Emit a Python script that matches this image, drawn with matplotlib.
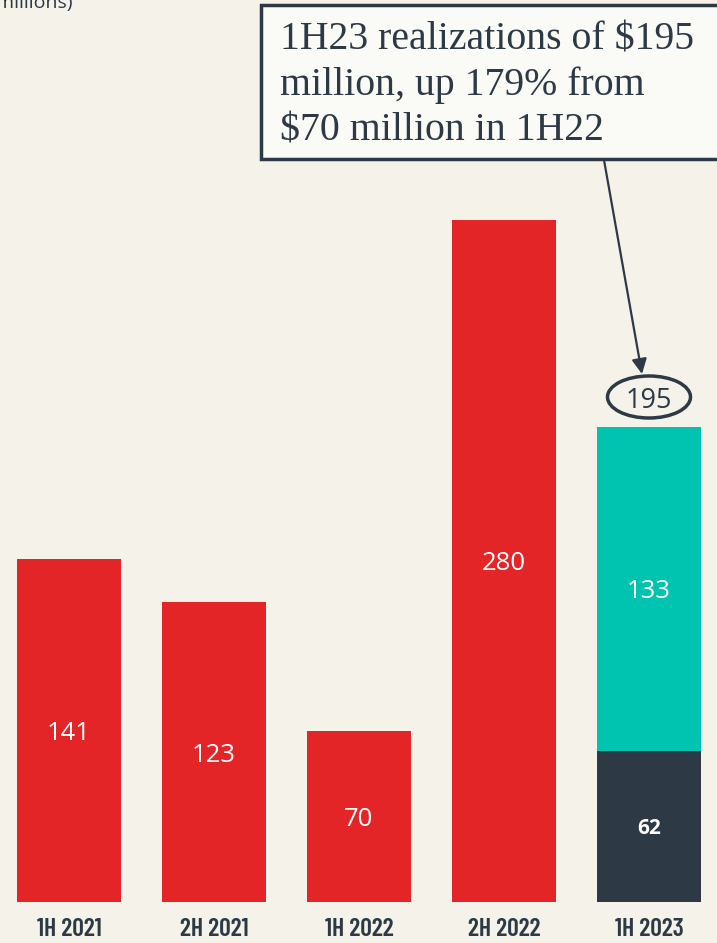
import matplotlib
matplotlib.use('Agg')
import matplotlib.pyplot as plt
from matplotlib.patches import Ellipse, Rectangle
from matplotlib import font_manager
from matplotlib.font_manager import FontProperties

categories = ['1H 2021', '2H 2021', '1H 2022', '2H 2022', '1H 2023']
red_values = [141, 123, 70, 280, 0]
dark_values = [0, 0, 0, 0, 62]
teal_values = [0, 0, 0, 0, 133]
total_1h23 = 195
callout = "1H23 realizations of $195\nmillion, up 179% from\n$70 million in 1H22"
unit_label = "($ in millions)"

BG = '#f5f2ea'
RED = '#e32527'
TEAL = '#00c3b0'
DARK = '#2d3945'

W, H = 717, 943
X0, DX = 69.0, 145.0        # pixel center of first bar, spacing
Y0, SY = 902.0, 2.436       # pixel baseline, px per unit

def px(x):
    return (x - X0) / DX

def py(y):
    return (Y0 - y) / SY

# condensed bold sans for the category labels
files = {f.fname.split('/')[-1]: f.fname for f in font_manager.fontManager.ttflist}
cat_prop = None
for fn, size in (('BarlowCondensed-SemiBold.ttf', 18.5),
                 ('AsapCondensed-SemiBold.ttf', 15.5)):
    if fn in files:
        cat_prop = FontProperties(fname=files[fn], size=size)
        break
if cat_prop is None:
    cat_prop = FontProperties(family='Open Sans', weight='bold', size=15)

fig = plt.figure(figsize=(W / 100, H / 100), dpi=100)
fig.patch.set_facecolor(BG)
ax = fig.add_axes([0, 0, 1, 1])
ax.set_facecolor(BG)
ax.set_xlim(px(0), px(W))
ax.set_ylim(py(H), py(0))
ax.axis('off')

xs = list(range(len(categories)))
bw = 104 / DX
ax.bar(xs, red_values, width=bw, color=RED, zorder=2)
ax.bar(xs, dark_values, width=bw, color=DARK, zorder=2)
ax.bar(xs, teal_values, width=bw, bottom=dark_values, color=TEAL, zorder=2)

num_font = 'Open Sans'
for i, v in enumerate(red_values):
    if v > 0:
        ax.text(i, v / 2, str(v), ha='center', va='center_baseline', color='white',
                fontsize=18.5, family=num_font)
for i, (d, t) in enumerate(zip(dark_values, teal_values)):
    if d > 0:
        ax.text(i, d / 2, str(d), ha='center', va='center_baseline', color='white',
                fontsize=15, fontweight='bold', family=num_font)
    if t > 0:
        ax.text(i, d + t / 2, str(t), ha='center', va='center_baseline', color='white',
                fontsize=18.5, family=num_font)

for i, c in enumerate(categories):
    ax.text(i, py(936), c, ha='center', va='baseline', color=DARK,
            fontproperties=cat_prop)

# ellipse around total
ax.add_patch(Ellipse((4, py(397)), 83 / DX, 42 / SY, fill=False,
                     edgecolor=DARK, lw=2.5, zorder=3))
ax.text(4, py(397), str(total_1h23), ha='center', va='center_baseline', color=DARK,
        fontsize=19.5, family=num_font, zorder=4)

# callout box
ax.add_patch(Rectangle((px(261), py(159)), (760 - 261) / DX, (159 - 5) / SY,
                       facecolor='#fafaf6', edgecolor=DARK, lw=2.5, zorder=5,
                       clip_on=False))
ax.text(px(280), py(21), callout, ha='left', va='top', color=DARK,
        fontsize=28.6, family='Liberation Serif', linespacing=1.3, zorder=6)

ax.annotate('', xy=(px(642), py(374)), xytext=(px(604), py(160)),
            arrowprops=dict(arrowstyle='-|>,head_length=0.9,head_width=0.45',
                            color=DARK, lw=1.6, shrinkA=0, shrinkB=0), zorder=4)

ax.text(px(72), py(8), unit_label, ha='right', va='baseline', color=DARK,
        fontsize=14, family='Open Sans')

fig.savefig('out.png', dpi=100, facecolor=BG)
